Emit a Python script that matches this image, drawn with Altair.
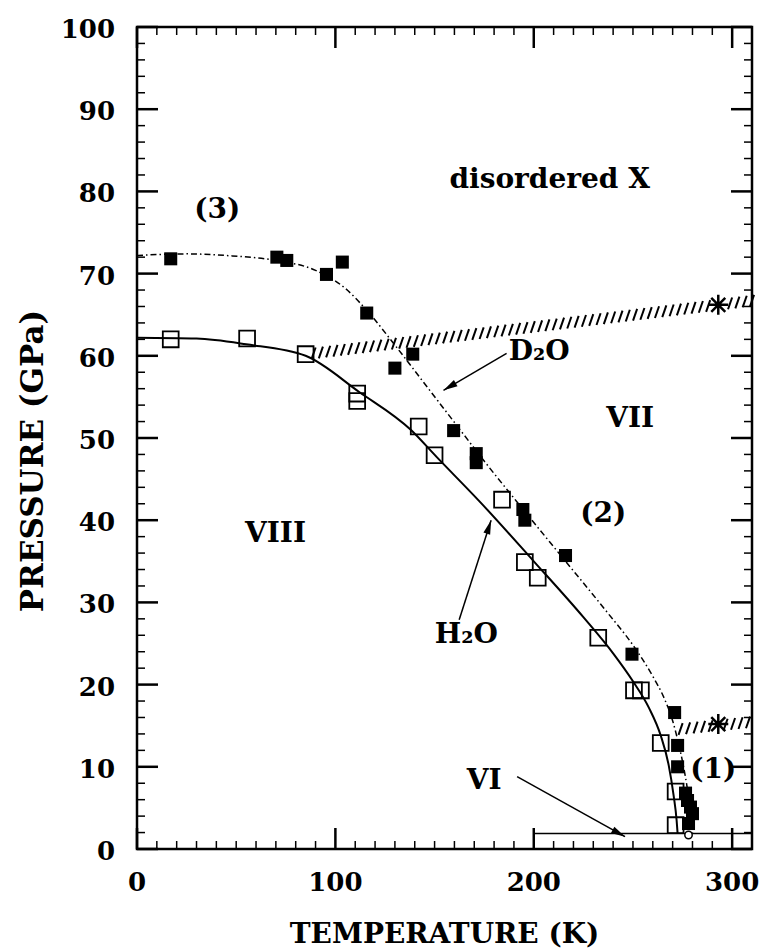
import math
import altair as alt
import pandas as pd

# ---- measured transition points: ice VIII -> VII ----
h2o_T = [17, 55.5, 85, 111, 111, 142, 150, 184, 195.5, 202, 232.5, 250.5, 254, 264, 271.5, 271.5]
h2o_P = [62.0, 62.1, 60.2, 55.4, 54.5, 51.4, 47.9, 42.5, 34.9, 33.0, 25.7, 19.3, 19.3, 12.9, 7.0, 2.9]

d2o_T = [17, 70.5, 75.5, 95.5, 103.5, 115.8, 130, 139, 159.6, 171, 171, 194.5, 195.5, 216,
         249.5, 271, 272.5, 272.5, 276.5, 277.5, 279, 280, 278]
d2o_P = [71.8, 72.0, 71.6, 69.9, 71.4, 65.2, 58.5, 60.2, 50.9, 48.1, 47.0, 41.3, 40.0, 35.7,
         23.7, 16.6, 12.6, 10.0, 6.8, 5.9, 5.1, 4.3, 3.1]

# ---- phase boundaries ----
h2o_fit_T = [0, 30, 55, 85, 112, 138, 151, 173, 200, 225, 240, 250, 258, 264, 268, 270.5, 272, 272.5]
h2o_fit_P = [62.2, 62.1, 61.4, 60.0, 55.6, 51.0, 47.7, 42.2, 35.0, 28.2, 23.8, 20.4, 17.2, 13.8, 10.2, 6.5, 3.5, 1.9]

d2o_fit_T = [0, 25, 45, 70, 90, 105, 117, 130, 145, 160, 175, 195, 215, 237, 250, 260, 266, 270,
             273, 275.5, 277.5, 279, 280]
d2o_fit_P = [72.2, 72.4, 72.2, 71.6, 70.4, 68.2, 65.2, 61.3, 56.6, 51.9, 47.2, 41.2, 35.3, 28.8, 24.8,
             21.0, 18.2, 15.6, 12.8, 10.0, 7.2, 4.5, 1.9]

# VI / VII boundary
vi_T = [200, 310]
vi_P = 1.9

# triple point
triple_T = [278]
triple_P = [1.7]

# hatched boundaries to disordered X (upper) and the low-T limit (lower), with room-T stars
hatch_upper_T = [89, 310]
hatch_upper_P = [60.3, 66.7]
hatch_lower_T = [274, 308]
hatch_lower_P = [14.6, 15.4]
star_T = [293, 293]
star_P = [66.2, 15.2]

# annotations
label_text = ["disordered X", "(3)", "VII", "(2)", "VIII", "D\u2082O", "H\u2082O", "VI", "(1)"]
label_T = [208, 40.5, 248.6, 235, 69.8, 202.7, 166, 175, 290.5]
label_P = [80.4, 76.8, 51.3, 39.8, 37.3, 59.5, 25.1, 7.3, 8.6]

# arrows: tail -> head
arrow_T0 = [186.3, 162.4, 191.6]
arrow_P0 = [60.3, 27.9, 8.8]
arrow_T1 = [154.5, 178.5, 246]
arrow_P1 = [55.8, 40.0, 1.5]

# axes
x_title = "TEMPERATURE (K)"
y_title = "PRESSURE (GPa)"
x_major = [0, 100, 200, 300]
x_minor = [t for t in range(10, 310, 10) if t % 100]
y_major = list(range(0, 101, 10))
y_minor = [p for p in range(2, 100, 2) if p % 10]

# ---- layout ----
W, H = 615, 822
T_MAX, P_MAX = 310, 100
FONT = "DejaVu Serif"

xs = alt.Scale(domain=[0, T_MAX], nice=False, zero=False)
ys = alt.Scale(domain=[0, P_MAX], nice=False, zero=False)


def X(field="T"):
    return alt.X(f"{field}:Q", scale=xs, axis=None)


def Y(field="P"):
    return alt.Y(f"{field}:Q", scale=ys, axis=None)


def frame(t, p):
    return pd.DataFrame({"T": t, "P": p})


# boundary curves
h2o_line = alt.Chart(frame(h2o_fit_T, h2o_fit_P)).mark_line(
    color="black", strokeWidth=2, interpolate="monotone"
).encode(x=X(), y=Y(), order="T:Q")

d2o_line = alt.Chart(frame(d2o_fit_T, d2o_fit_P)).mark_line(
    color="black", strokeWidth=1.5, strokeDash=[6, 3, 1.5, 3], interpolate="monotone"
).encode(x=X(), y=Y(), order="T:Q")

vi_line = alt.Chart(pd.DataFrame({"T": [vi_T[0]], "T2": [vi_T[1]], "P": [vi_P]})).mark_rule(
    color="black", strokeWidth=1.5
).encode(x=X(), x2="T2:Q", y=Y())

# data points
h2o_pts = alt.Chart(frame(h2o_T, h2o_P)).mark_point(
    shape="square", size=250, filled=False, color="black", strokeWidth=1.8, opacity=1
).encode(x=X(), y=Y())

d2o_pts = alt.Chart(frame(d2o_T, d2o_P)).mark_point(
    shape="square", size=170, filled=True, color="black", opacity=1
).encode(x=X(), y=Y())

triple = alt.Chart(frame(triple_T, triple_P)).mark_point(
    shape="circle", size=55, filled=True, fill="white", stroke="black", strokeWidth=1.5, opacity=1
).encode(x=X(), y=Y())


# hatched boundaries: evenly spaced slanted strokes between two end points
def hatch(t, p, count):
    dt = (t[1] - t[0]) / count
    dp = (p[1] - p[0]) / count
    return alt.Chart(alt.sequence(0, count + 1, 1, as_="k")).transform_calculate(
        T=f"{t[0]} + datum.k * {dt}", P=f"{p[0]} + datum.k * {dp}"
    ).transform_filter(
        f"abs(datum.T - {star_T[0]}) > 3.5"
    ).mark_point(
        shape="M-0.35,1L0.35,-1", size=137, filled=False, color="black", strokeWidth=2, opacity=1
    ).encode(x=X(), y=Y())


hatch_up = hatch(hatch_upper_T, hatch_upper_P, 60)
hatch_low = hatch(hatch_lower_T, hatch_lower_P, 9)

stars = alt.Chart(frame(star_T, star_P)).mark_point(
    shape="M0,-1L0,1M-1,0L1,0M-0.7,-0.7L0.7,0.7M-0.7,0.7L0.7,-0.7",
    size=400, filled=False, color="black", strokeWidth=2.5, opacity=1
).encode(x=X(), y=Y())

# arrows
kx, ky = W / T_MAX, H / P_MAX
arrow_df = pd.DataFrame({
    "T": arrow_T0, "P": arrow_P0, "T2": arrow_T1, "P2": arrow_P1,
})
arrow_df["ang"] = [
    math.degrees(math.atan2((t1 - t0) * kx, (p1 - p0) * ky)) % 360
    for t0, p0, t1, p1 in zip(arrow_T0, arrow_P0, arrow_T1, arrow_P1)
]
arrow_shafts = alt.Chart(arrow_df).mark_rule(color="black", strokeWidth=1.5).encode(
    x=X(), y=Y(), x2="T2:Q", y2="P2:Q"
)
arrow_heads = alt.Chart(arrow_df).mark_point(
    shape="M0,0L0.5,2L-0.5,2Z", size=200, filled=True, color="black", opacity=1
).encode(
    x=X("T2"), y=Y("P2"), angle=alt.Angle("ang:Q", scale=None)
)

# region labels
labels = alt.Chart(pd.DataFrame({"T": label_T, "P": label_P, "text": label_text})).mark_text(
    font=FONT, fontWeight="bold", fontSize=28, baseline="alphabetic", align="center", color="black"
).encode(x=X(), y=Y(), text="text:N")


# inward ticks on all four sides
def x_ticks(values, length, width):
    df = pd.DataFrame({"T": values})
    bottom = alt.Chart(df).mark_rule(color="black", strokeWidth=width).encode(
        x=X(), y=alt.value(H), y2=alt.value(H - length))
    top = alt.Chart(df).mark_rule(color="black", strokeWidth=width).encode(
        x=X(), y=alt.value(0), y2=alt.value(length))
    return [bottom, top]


def y_ticks(values, length, width):
    df = pd.DataFrame({"P": values})
    left = alt.Chart(df).mark_rule(color="black", strokeWidth=width).encode(
        y=Y(), x=alt.value(0), x2=alt.value(length))
    right = alt.Chart(df).mark_rule(color="black", strokeWidth=width).encode(
        y=Y(), x=alt.value(W), x2=alt.value(W - length))
    return [left, right]


ticks = (x_ticks(x_major, 21, 2.5) + x_ticks(x_minor, 8, 1.5)
         + y_ticks(y_major, 21, 2.5) + y_ticks(y_minor, 8, 1.5))

# tick labels, placed through the same scales
tick_text = dict(font=FONT, fontWeight="bold", fontSize=26, color="black")
x_labels = alt.Chart(pd.DataFrame({"T": x_major, "lab": [str(v) for v in x_major]})).mark_text(
    baseline="alphabetic", align="center", **tick_text
).encode(x=X(), y=alt.value(H + 42), text="lab:N")
y_labels = alt.Chart(pd.DataFrame({"P": y_major, "lab": [str(v) for v in y_major]})).mark_text(
    baseline="middle", align="right", dy=3, **tick_text
).encode(y=Y(), x=alt.value(-22), text="lab:N")

# axis titles
x_title_mark = alt.Chart(pd.DataFrame({"lab": [x_title]})).mark_text(
    font=FONT, fontWeight="bold", fontSize=28, color="black", baseline="alphabetic", align="center"
).encode(x=alt.value(W / 2), y=alt.value(H + 94), text="lab:N")
y_title_mark = alt.Chart(pd.DataFrame({"lab": [y_title]})).mark_text(
    font=FONT, fontWeight="bold", fontSize=31, color="black", baseline="alphabetic", align="center",
    angle=270
).encode(x=alt.value(-94), y=alt.value(434), text="lab:N")

chart = alt.layer(
    h2o_line, d2o_line, vi_line, *ticks, hatch_up, hatch_low, stars,
    arrow_shafts, arrow_heads, h2o_pts, d2o_pts, triple, labels,
    x_labels, y_labels, x_title_mark, y_title_mark
).properties(
    width=W, height=H,
    autosize=alt.AutoSizeParams(type="none"),
    padding={"left": 137, "top": 27, "right": 11, "bottom": 100},
    background="white",
).configure_view(
    stroke="black", strokeWidth=2.5
)

chart.save("out.html", embed_options={"renderer": "svg", "actions": False})
